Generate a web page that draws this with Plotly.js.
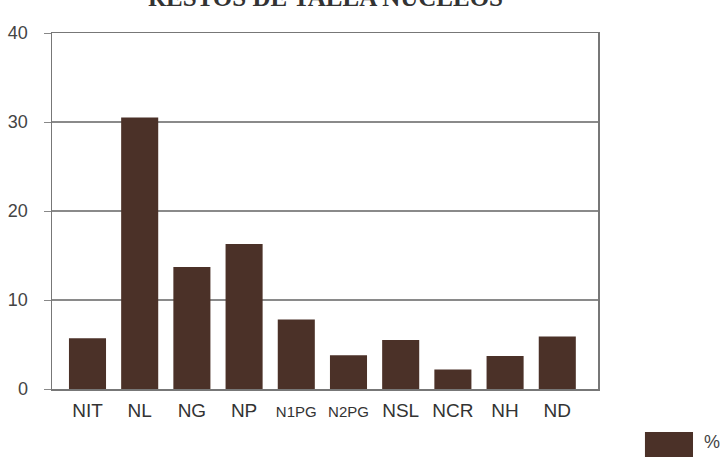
<!DOCTYPE html>
<html><head><meta charset="utf-8">
<script src="https://cdn.plot.ly/plotly-3.0.1.min.js"></script>
<style>html,body{margin:0;padding:0;background:#fff}#chart{width:721px;height:457px}</style>
</head><body><div id="chart"></div>
<script>
const categories = ["NIT","NL","NG","NP","N1PG","N2PG","NSL","NCR","NH","ND"];
const values = [5.7, 30.5, 13.7, 16.3, 7.8, 3.8, 5.5, 2.2, 3.7, 5.9];
const yTicks = [0, 10, 20, 30, 40];
const seriesName = "%";
const titleText = "RESTOS DE TALLA NUCLEOS";

const barColor = "#4b3128";
const sans = "'Liberation Sans', Arial, sans-serif";
// longer category names were printed in a smaller, squeezed type
const tickText = categories.map(c => c.length > 3 ? '<span style="font-size:15px">' + c + '</span>' : c);

const trace = {
  type: "bar", x: categories, y: values, name: seriesName,
  marker: {color: barColor, line: {width: 0}},
  width: 0.71, showlegend: false, hoverinfo: "x+y"
};

const layout = {
  width: 721, height: 457,
  margin: {l: 52, r: 123, t: 33, b: 68},
  paper_bgcolor: "#fff", plot_bgcolor: "#fff",
  showlegend: false,
  xaxis: {
    type: "category", range: [-0.68, 9.78],
    tickvals: categories, ticktext: tickText,
    showline: true, linecolor: "#777", linewidth: 1.5, mirror: true,
    showgrid: false, ticks: "",
    tickfont: {family: sans, size: 19, color: "#333"},
    ticklabelstandoff: 4
  },
  yaxis: {
    range: [0, 40], tickvals: yTicks,
    showline: true, linecolor: "#777", linewidth: 1.5, mirror: true,
    showgrid: true, gridcolor: "#8a8a8a", gridwidth: 1.2,
    ticks: "outside", ticklen: 7, tickcolor: "#888", tickwidth: 1,
    tickfont: {family: sans, size: 18, color: "#444"},
    ticklabelstandoff: 12, zeroline: false
  },
  annotations: [
    {text: "<b>" + titleText + "</b>", xref: "paper", yref: "paper", x: 0.501, y: 1, xanchor: "center", yanchor: "bottom",
     yshift: 20, showarrow: false, font: {family: "'Liberation Serif', 'DejaVu Serif', serif", size: 25, color: "#333"}},
    {text: seriesName, xref: "paper", yref: "paper", x: 1.19, y: -0.149, xanchor: "left", yanchor: "middle",
     showarrow: false, font: {family: sans, size: 18, color: "#444"}}
  ],
  shapes: [
    {type: "rect", xref: "paper", yref: "paper", x0: 1.086, x1: 1.174, y0: -0.21, y1: -0.121,
     fillcolor: barColor, line: {width: 0}}
  ]
};

Plotly.newPlot("chart", [trace], layout, {displayModeBar: false, staticPlot: true});
</script>
</body></html>
